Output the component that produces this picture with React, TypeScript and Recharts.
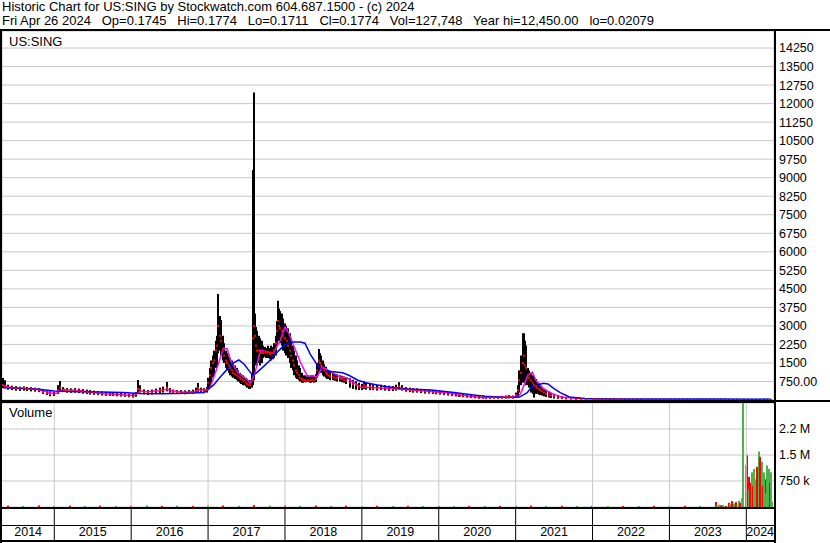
import { ComposedChart, Bar, Scatter, Line, XAxis, YAxis, CartesianGrid } from "recharts"

const FONT = '"Liberation Sans", Arial, sans-serif'
const GRID = "#c8c8c8"
const RED = "#ff0000"
const GREEN = "#4db34d"

const title = "Historic Chart for US:SING by Stockwatch.com 604.687.1500 - (c) 2024"
const quote = "Fri Apr 26 2024   Op=0.1745   Hi=0.1774   Lo=0.1711   Cl=0.1774   Vol=127,748   Year hi=12,450.00   lo=0.02079"

const X_MIN = 2014.32
const X_MAX = 2024.36
const yearStarts = [2015, 2016, 2017, 2018, 2019, 2020, 2021, 2022, 2023, 2024]
const yearLabels = [2014, 2015, 2016, 2017, 2018, 2019, 2020, 2021, 2022, 2023, 2024]

const priceTicks = [750, 1500, 2250, 3000, 3750, 4500, 5250, 6000, 6750, 7500, 8250, 9000, 9750, 10500, 11250, 12000, 12750, 13500, 14250]
const volumeTicks = [750000, 1500000, 2250000]
const volumeTickLabels = ["750 k", "1.5 M", "2.2 M"]

// [date, low, high, close]
const bars2014to2016 = [
  [2014.33, 486, 890, 600], [2014.36, 480, 800, 560], [2014.40, 420, 620, 520], [2014.45, 400, 580, 500],
  [2014.50, 380, 560, 480], [2014.55, 370, 540, 470], [2014.60, 380, 550, 480], [2014.65, 360, 530, 460],
  [2014.70, 350, 520, 450], [2014.75, 340, 500, 430], [2014.80, 320, 480, 410], [2014.85, 250, 430, 330],
  [2014.90, 200, 380, 280], [2014.95, 150, 350, 230], [2015.00, 160, 330, 250], [2015.05, 250, 600, 400],
  [2015.08, 320, 770, 500], [2015.12, 320, 520, 420], [2015.17, 300, 480, 400], [2015.22, 290, 470, 390],
  [2015.27, 300, 480, 400], [2015.32, 280, 460, 380], [2015.37, 260, 440, 360], [2015.42, 240, 420, 330],
  [2015.47, 220, 400, 300], [2015.52, 210, 380, 290], [2015.57, 200, 360, 270], [2015.62, 180, 340, 250],
  [2015.67, 170, 330, 240], [2015.72, 170, 320, 240], [2015.77, 160, 310, 230], [2015.82, 150, 300, 220],
  [2015.87, 140, 290, 210], [2015.92, 130, 270, 190], [2015.97, 110, 250, 170], [2016.02, 100, 250, 170],
  [2016.06, 130, 320, 230], [2016.09, 250, 810, 450], [2016.12, 300, 600, 420], [2016.17, 230, 430, 330],
  [2016.22, 200, 400, 300], [2016.27, 220, 420, 320], [2016.32, 250, 460, 350], [2016.37, 280, 500, 400],
  [2016.42, 300, 540, 420], [2016.46, 350, 730, 500], [2016.50, 300, 480, 380], [2016.55, 260, 420, 330],
  [2016.60, 240, 400, 310], [2016.65, 240, 400, 320], [2016.70, 230, 390, 300], [2016.75, 250, 400, 320],
  [2016.80, 260, 420, 330], [2016.84, 300, 500, 380], [2016.87, 330, 690, 480], [2016.91, 300, 500, 400],
  [2016.95, 280, 480, 380], [2016.98, 300, 520, 420],
]

const bars2017 = [
  [2017.00, 400, 900, 700], [2017.02, 500, 1300, 1000], [2017.04, 700, 1600, 1300], [2017.06, 900, 1800, 1500],
  [2017.08, 1000, 2000, 1600], [2017.10, 1300, 2400, 2000], [2017.12, 1400, 2600, 2200], [2017.135, 1900, 4290, 3000],
  [2017.15, 2000, 3400, 2600], [2017.17, 1800, 3240, 2400], [2017.19, 1600, 2600, 2000], [2017.21, 1500, 2300, 1800],
  [2017.23, 1300, 2000, 1600], [2017.25, 1200, 1900, 1500], [2017.27, 1100, 1800, 1400], [2017.29, 1000, 1700, 1300],
  [2017.31, 950, 1600, 1200], [2017.33, 900, 1500, 1100], [2017.35, 850, 1400, 1050], [2017.37, 800, 1300, 1000],
  [2017.39, 750, 1200, 950], [2017.41, 700, 1100, 900], [2017.43, 650, 1050, 850], [2017.45, 600, 1000, 800],
  [2017.47, 600, 950, 780], [2017.49, 550, 900, 700], [2017.51, 500, 850, 650], [2017.53, 450, 800, 600],
  [2017.55, 450, 800, 600], [2017.57, 500, 1100, 800], [2017.585, 600, 9315, 2500], [2017.598, 800, 12450, 3000],
  [2017.61, 1400, 3500, 2600], [2017.625, 1500, 2960, 2200], [2017.64, 1400, 2800, 2000], [2017.66, 1500, 2600, 2000],
  [2017.68, 1400, 2500, 1900], [2017.70, 1500, 2400, 1900], [2017.72, 1700, 2200, 1900], [2017.74, 1750, 2150, 1950],
  [2017.76, 1700, 2100, 1900], [2017.78, 1700, 2200, 1950], [2017.80, 1650, 2100, 1850], [2017.82, 1600, 2200, 1900],
  [2017.84, 1650, 2150, 1900], [2017.86, 1700, 2300, 2000], [2017.88, 1800, 2600, 2300], [2017.895, 2200, 3200, 2800],
  [2017.91, 2400, 4020, 3200], [2017.925, 2400, 3700, 3000], [2017.94, 2300, 3600, 2900], [2017.96, 2200, 3500, 2800],
  [2017.98, 2000, 3300, 2600],
]

const bars2018 = [
  [2018.00, 1900, 3100, 2500], [2018.02, 1800, 3000, 2400], [2018.04, 1700, 2900, 2200], [2018.06, 1500, 2700, 2000],
  [2018.08, 1300, 2500, 1800], [2018.10, 1200, 2200, 1600], [2018.12, 1000, 2000, 1400], [2018.14, 900, 1800, 1200],
  [2018.16, 850, 1600, 1100], [2018.18, 800, 1400, 1000], [2018.20, 750, 1300, 900], [2018.22, 700, 1100, 850],
  [2018.24, 700, 1000, 800], [2018.26, 720, 1000, 800], [2018.28, 720, 950, 780], [2018.30, 730, 1000, 800],
  [2018.32, 700, 950, 780], [2018.34, 700, 1000, 800], [2018.36, 730, 1000, 820], [2018.38, 700, 950, 780],
  [2018.40, 720, 1050, 850], [2018.42, 900, 1500, 1200], [2018.437, 1100, 2065, 1600], [2018.45, 1200, 1900, 1500],
  [2018.47, 1100, 1800, 1400], [2018.49, 1000, 1600, 1300], [2018.51, 950, 1450, 1200], [2018.53, 900, 1350, 1100],
  [2018.55, 850, 1250, 1050], [2018.57, 850, 1200, 1000], [2018.59, 800, 1150, 950], [2018.62, 800, 1100, 950],
  [2018.65, 780, 1050, 900], [2018.68, 750, 1050, 900], [2018.71, 750, 1000, 880], [2018.74, 720, 980, 850],
  [2018.77, 700, 950, 820], [2018.80, 650, 920, 780], [2018.84, 500, 880, 700], [2018.88, 450, 820, 650],
  [2018.92, 420, 760, 600], [2018.96, 400, 700, 550],
]

const bars2019to2020 = [
  [2019.00, 400, 650, 520], [2019.03, 450, 750, 600], [2019.06, 420, 700, 560], [2019.10, 400, 650, 520],
  [2019.15, 400, 620, 500], [2019.20, 380, 600, 480], [2019.25, 400, 620, 500], [2019.30, 380, 600, 480],
  [2019.35, 370, 580, 470], [2019.40, 360, 560, 450], [2019.45, 380, 620, 480], [2019.48, 420, 720, 560],
  [2019.52, 380, 600, 470], [2019.57, 340, 520, 420], [2019.62, 320, 500, 400], [2019.67, 300, 480, 380],
  [2019.72, 300, 470, 380], [2019.77, 280, 450, 360], [2019.82, 260, 430, 340], [2019.87, 260, 420, 330],
  [2019.92, 250, 400, 320], [2019.97, 230, 380, 300], [2020.02, 220, 370, 290], [2020.07, 200, 350, 270],
  [2020.12, 180, 330, 250], [2020.17, 160, 300, 220], [2020.22, 140, 280, 200], [2020.27, 120, 260, 180],
  [2020.32, 110, 250, 170], [2020.37, 100, 220, 150], [2020.42, 80, 200, 130], [2020.47, 70, 180, 120],
  [2020.52, 60, 160, 100], [2020.57, 60, 180, 110], [2020.62, 50, 150, 90], [2020.67, 50, 140, 90],
  [2020.72, 60, 160, 100], [2020.77, 50, 150, 90], [2020.82, 60, 170, 110], [2020.87, 60, 180, 120],
  [2020.92, 70, 200, 130], [2020.97, 60, 180, 110],
]

const bars2021 = [
  [2021.01, 80, 300, 200], [2021.03, 150, 600, 400], [2021.05, 300, 1200, 800], [2021.07, 600, 1800, 1100],
  [2021.09, 700, 2700, 1500], [2021.105, 900, 2700, 1800], [2021.12, 700, 2400, 1400], [2021.14, 600, 2200, 1300],
  [2021.16, 600, 1300, 1000], [2021.18, 500, 1200, 900], [2021.20, 300, 1100, 800], [2021.22, 250, 1000, 700],
  [2021.24, 100, 900, 600], [2021.26, 250, 850, 550], [2021.28, 250, 750, 500], [2021.30, 220, 700, 450],
  [2021.32, 200, 650, 400], [2021.34, 180, 550, 350], [2021.37, 150, 450, 300], [2021.40, 120, 400, 250],
  [2021.43, 100, 350, 200], [2021.46, 80, 300, 180], [2021.50, 60, 250, 150], [2021.55, 50, 200, 120],
  [2021.60, 40, 150, 90], [2021.66, 30, 120, 70], [2021.72, 30, 100, 60], [2021.78, 20, 90, 50],
  [2021.85, 20, 80, 45], [2021.92, 15, 70, 40],
]

const bars2022to2024 = [
  [2022.00, 15, 60, 35], [2022.05, 12, 55, 32], [2022.10, 10, 50, 30], [2022.15, 10, 48, 28],
  [2022.20, 10, 45, 25], [2022.25, 9, 42, 24], [2022.30, 8, 40, 22], [2022.35, 7, 38, 20],
  [2022.40, 6, 35, 18], [2022.45, 6, 32, 16], [2022.50, 5, 30, 15], [2022.55, 5, 28, 13],
  [2022.60, 4, 25, 12], [2022.65, 4, 22, 11], [2022.70, 4, 20, 10], [2022.75, 3, 19, 9],
  [2022.80, 3, 18, 9], [2022.85, 3, 16, 8], [2022.90, 3, 15, 8], [2022.95, 2, 13, 7],
  [2023.00, 2, 12, 6], [2023.05, 2, 11, 5], [2023.10, 2, 10, 5], [2023.15, 2, 9, 4],
  [2023.20, 2, 9, 4], [2023.25, 1, 8, 4], [2023.30, 1, 8, 4], [2023.35, 1, 7, 3],
  [2023.40, 1, 6, 3], [2023.45, 1, 5, 2], [2023.50, 1, 5, 2], [2023.55, 0.5, 4, 2],
  [2023.60, 0.5, 4, 2], [2023.65, 0.5, 3, 1], [2023.70, 0.5, 3, 1], [2023.75, 0.3, 2, 0.8],
  [2023.80, 0.2, 2, 0.8], [2023.85, 0.1, 1.5, 0.6], [2023.90, 0.1, 1, 0.5], [2023.95, 0.05, 0.8, 0.4],
  [2024.00, 0.05, 0.6, 0.3], [2024.05, 0.05, 0.5, 0.25], [2024.10, 0.05, 0.4, 0.2], [2024.15, 0.08, 0.35, 0.2],
  [2024.20, 0.1, 0.3, 0.2], [2024.25, 0.12, 0.25, 0.18], [2024.30, 0.15, 0.2, 0.18], [2024.32, 0.1711, 0.1774, 0.1774],
]

// [date, value]
const fastMa = [
  [2014.33, 600], [2014.45, 500], [2014.6, 470], [2014.75, 440], [2014.85, 380], [2014.95, 280], [2015.02, 270],
  [2015.1, 400], [2015.2, 400], [2015.35, 370], [2015.5, 300], [2015.65, 250], [2015.8, 230], [2015.95, 190],
  [2016.04, 190], [2016.12, 360], [2016.2, 330], [2016.35, 370], [2016.46, 430], [2016.55, 360], [2016.7, 310],
  [2016.82, 340], [2016.9, 420], [2016.99, 400], [2017.03, 530], [2017.12, 1340], [2017.2, 2100], [2017.25, 2070],
  [2017.29, 1620], [2017.38, 1130], [2017.51, 810], [2017.55, 690], [2017.61, 1090], [2017.68, 2020], [2017.77, 1940],
  [2017.85, 1900], [2017.94, 2430], [2018.0, 2960], [2018.05, 2700], [2018.11, 2230], [2018.2, 1540], [2018.29, 970],
  [2018.37, 970], [2018.42, 930], [2018.48, 1340], [2018.63, 1090], [2018.72, 930], [2018.81, 890], [2018.98, 530],
  [2019.24, 490], [2019.67, 400], [2020.11, 280], [2020.37, 160], [2020.55, 100], [2020.95, 120], [2021.03, 122],
  [2021.07, 290], [2021.16, 1010], [2021.22, 1130], [2021.26, 810], [2021.35, 490], [2021.46, 280], [2021.59, 120],
  [2021.85, 60], [2022.5, 15], [2023.5, 3], [2024.32, 0.2],
]

const slowMa = [
  [2014.33, 500], [2014.55, 480], [2014.8, 440], [2015.0, 360], [2015.3, 330], [2015.6, 320], [2015.9, 300],
  [2016.1, 260], [2016.4, 250], [2016.7, 270], [2016.95, 300], [2017.07, 600], [2017.15, 900], [2017.25, 1250],
  [2017.33, 1500], [2017.4, 1620], [2017.47, 1450], [2017.53, 1200], [2017.58, 1000], [2017.63, 1100], [2017.72, 1350],
  [2017.82, 1650], [2017.92, 2000], [2018.0, 2250], [2018.1, 2350], [2018.2, 2350], [2018.26, 2300], [2018.33, 1850],
  [2018.42, 1420], [2018.5, 1200], [2018.6, 1150], [2018.75, 1100], [2018.83, 1000], [2018.95, 800], [2019.05, 700],
  [2019.3, 550], [2019.6, 450], [2019.9, 400], [2020.2, 300], [2020.45, 200], [2020.6, 150], [2020.9, 100],
  [2021.05, 120], [2021.15, 300], [2021.2, 500], [2021.28, 600], [2021.36, 680], [2021.42, 650], [2021.49, 480],
  [2021.58, 300], [2021.7, 120], [2021.9, 60], [2022.3, 45], [2023.0, 40], [2023.6, 38], [2024.32, 35],
]

// [date, volume, up (1) or down (0)]
const volumeBaseline = [
  [2014.40, 40000, 0], [2014.60, 30000, 1], [2014.80, 45000, 0], [2015.00, 35000, 1], [2015.20, 40000, 0],
  [2015.40, 30000, 1], [2015.60, 40000, 0], [2015.80, 30000, 1], [2016.00, 35000, 0], [2016.20, 45000, 1],
  [2016.40, 30000, 0], [2016.60, 40000, 1], [2016.80, 32000, 0], [2017.00, 50000, 1], [2017.20, 42000, 0],
  [2017.40, 36000, 1], [2017.60, 55000, 0], [2017.80, 40000, 1], [2018.00, 48000, 0], [2018.20, 36000, 1],
  [2018.40, 42000, 0], [2018.60, 30000, 1], [2018.80, 40000, 0], [2019.00, 30000, 1], [2019.20, 36000, 0],
  [2019.40, 28000, 1], [2019.60, 32000, 0], [2019.80, 28000, 1], [2020.00, 30000, 0], [2020.20, 25000, 1],
  [2020.40, 30000, 0], [2020.60, 28000, 1], [2020.80, 32000, 0], [2021.00, 45000, 1], [2021.20, 40000, 0],
  [2021.40, 30000, 1], [2021.60, 36000, 0], [2021.80, 28000, 1], [2022.00, 30000, 0], [2022.20, 25000, 1],
  [2022.40, 30000, 0], [2022.60, 28000, 1], [2022.80, 32000, 0], [2023.00, 28000, 1], [2023.20, 36000, 0],
  [2023.40, 30000, 1],
]

const volumeRecent = [
  [2023.60, 144000, 0], [2023.62, 40000, 1], [2023.65, 66000, 1], [2023.675, 50000, 0], [2023.70, 60000, 1],
  [2023.74, 30000, 0], [2023.77, 120000, 0], [2023.79, 80000, 1], [2023.82, 170000, 0], [2023.84, 100000, 1],
  [2023.87, 140000, 0], [2023.90, 180000, 1], [2023.92, 120000, 0], [2023.94, 250000, 1], [2023.96, 3050000, 1],
  [2023.99, 1200000, 1], [2024.01, 1490000, 0], [2024.03, 870000, 0], [2024.04, 500000, 1], [2024.05, 700000, 0],
  [2024.06, 400000, 0], [2024.08, 1000000, 1], [2024.09, 600000, 0], [2024.10, 1100000, 1], [2024.12, 550000, 0],
  [2024.13, 800000, 1], [2024.14, 1160000, 0], [2024.155, 700000, 0], [2024.17, 1600000, 1], [2024.18, 1450000, 0],
  [2024.195, 900000, 0], [2024.21, 1300000, 1], [2024.22, 600000, 0], [2024.235, 1000000, 1], [2024.25, 800000, 0],
  [2024.26, 400000, 1], [2024.275, 1200000, 1], [2024.29, 500000, 0], [2024.30, 1100000, 1], [2024.31, 700000, 0],
  [2024.325, 1000000, 1], [2024.34, 150000, 1],
]

const priceData = [...bars2014to2016, ...bars2017, ...bars2018, ...bars2019to2020, ...bars2021, ...bars2022to2024].map(
  ([date, low, high, close]) => ({ date, range: [low, high], close })
)
const fastData = fastMa.map(([date, v]) => ({ date, v }))
const slowData = slowMa.map(([date, v]) => ({ date, v }))
const volumeData = [...volumeBaseline, ...volumeRecent].map(([date, volume, up]) => ({ date, volume, up }))

// year boundaries draw separators, mid points carry the year label
const yearLabelTicks = yearLabels.map((y) => (Math.max(y, X_MIN) + Math.min(y + 1, X_MAX)) / 2)
const volumeXTicks = [...yearStarts, ...yearLabelTicks].sort((a, b) => a - b)

const VOL_PLOT_H = 104
const DATE_ROWS_H = 34

const YearTick = (props: any) => {
  const { x, y, payload } = props
  const v = payload.value
  if (Number.isInteger(v)) {
    return (
      <g>
        <line x1={x} x2={x} y1={y - VOL_PLOT_H} y2={y} stroke={GRID} />
        <line x1={x} x2={x} y1={y} y2={y + DATE_ROWS_H} stroke="#000" />
      </g>
    )
  }
  return (
    <text x={x} y={y + 29} textAnchor="middle" fontSize={12.5} fontFamily={FONT} fill="#000">
      {Math.floor(v)}
    </text>
  )
}

// high-low bar, fixed 2px wide
const HiLoBar = (p: any) => {
  const cx = Math.round(p.x + p.width / 2)
  return <rect x={cx - 1} y={p.y} width={2} height={Math.max(p.height, 1)} fill="#000" />
}

const VolumeBar = (p: any) => {
  const cx = Math.round(p.x + p.width / 2)
  return <rect x={cx - 1} y={p.y} width={2} height={Math.max(p.height, 1)} fill={p.payload.up ? GREEN : RED} />
}

const CloseTick = (p: any) => <rect x={Math.round(p.cx) - 1} y={p.cy - 1} width={2} height={2} fill={RED} />

const axisTick = { fill: "#000", fontSize: 12.5, fontFamily: FONT }

const line = (left: number, top: number, width: number, height: number) => (
  <div style={{ position: "absolute", left, top, width, height, background: "#000" }} />
)

export default function App() {
  return (
    <div style={{ position: "absolute", left: 0, top: 0, width: 830, height: 543, background: "#fff", fontFamily: FONT, color: "#000", overflow: "hidden" }}>
      <div style={{ position: "absolute", left: 2, top: 0, fontSize: 13, lineHeight: "14px", whiteSpace: "pre" }}>
        <div>{title}</div>
        <div>{quote}</div>
      </div>

      <div style={{ position: "absolute", left: 0, top: 31 }}>
        <ComposedChart width={830} height={369} data={priceData} margin={{ top: 0, right: 0, bottom: 0, left: 2 }}>
          <CartesianGrid stroke={GRID} />
          <XAxis dataKey="date" type="number" domain={[X_MIN, X_MAX]} ticks={yearStarts} allowDataOverflow height={0} tick={false} axisLine={false} tickLine={false} />
          <YAxis orientation="right" width={56} domain={[0, 14940]} ticks={priceTicks} allowDataOverflow axisLine={false} tickLine={false} tickSize={0} tickMargin={5} interval={0}
            tick={axisTick} tickFormatter={(v: number) => (v === 750 ? "750.00" : String(v))} />
          <Bar dataKey="range" barSize={2} shape={HiLoBar} isAnimationActive={false} />
          <Scatter data={priceData} dataKey="close" shape={CloseTick} isAnimationActive={false} />
          <Line data={fastData} dataKey="v" stroke="#ff00ff" strokeWidth={1.5} dot={false} isAnimationActive={false} />
          <Line data={slowData} dataKey="v" stroke="#0000ff" strokeWidth={1.5} dot={false} isAnimationActive={false} />
        </ComposedChart>
      </div>

      <div style={{ position: "absolute", left: 0, top: 403 }}>
        <ComposedChart width={830} height={VOL_PLOT_H + DATE_ROWS_H} data={volumeData} margin={{ top: 0, right: 0, bottom: 0, left: 2 }}>
          <CartesianGrid stroke={GRID} vertical={false} />
          <XAxis dataKey="date" type="number" domain={[X_MIN, X_MAX]} ticks={volumeXTicks} allowDataOverflow height={DATE_ROWS_H} interval={0}
            axisLine={false} tickLine={false} tickSize={0} tickMargin={0} tick={(p: any) => <YearTick {...p} />} />
          <YAxis orientation="right" width={56} domain={[0, 3000000]} ticks={volumeTicks} allowDataOverflow axisLine={false} tickLine={false} tickSize={0} tickMargin={5} interval={0}
            tick={axisTick} tickFormatter={(v: number) => volumeTickLabels[volumeTicks.indexOf(v)]} />
          <Bar dataKey="volume" barSize={2} shape={VolumeBar} isAnimationActive={false} />
        </ComposedChart>
      </div>

      <div style={{ position: "absolute", left: 9, top: 34, fontSize: 13 }}>US:SING</div>
      <div style={{ position: "absolute", left: 9, top: 405, fontSize: 13 }}>Volume</div>

      {line(0, 29, 830, 2)}
      {line(0, 29, 2, 514)}
      {line(774, 29, 2, 514)}
      {line(0, 400, 830, 2)}
      {line(0, 402, 776, 1)}
      {line(0, 507, 776, 2)}
      {line(0, 525, 776, 1)}
      {line(0, 540, 776, 2)}
    </div>
  )
}
